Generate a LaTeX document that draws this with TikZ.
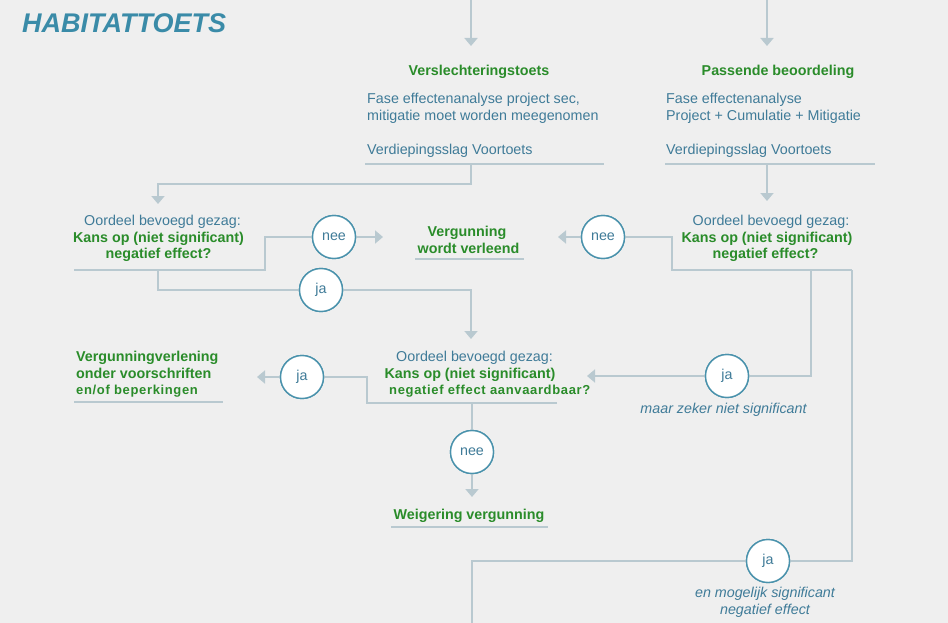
\documentclass[tikz,border=0pt]{standalone}
\usepackage{fontspec}
\setmainfont{Liberation Sans}
\newfontfamily\spacedfont[LetterSpace=5]{Liberation Sans}
\usetikzlibrary{arrows.meta}
\definecolor{bg}{HTML}{EFEFEF}
\definecolor{ln}{HTML}{B9C9D0}
\definecolor{grn}{HTML}{2A8C2A}
\definecolor{txt}{HTML}{3F7B98}
\definecolor{ttl}{HTML}{3A8BA8}
\definecolor{circc}{HTML}{4A92AC}
\tikzset{
  conn/.style={draw=ln, line width=1.8pt},
  arr/.style={conn, -{Triangle[width=13pt,length=8pt]}},
  ring/.style={circle, draw=circc, line width=1.4pt, fill=white, minimum size=43pt, inner sep=0pt, text=txt, font=\fontsize{14.3}{17}\selectfont},
  reg/.style={text=txt, font=\fontsize{14.3}{17}\selectfont, inner sep=0pt, anchor=base},
  regl/.style={reg, anchor=base west},
  bld/.style={text=grn, font=\fontsize{14.3}{17}\selectfont\bfseries, inner sep=0pt, anchor=base},
  bldl/.style={bld, anchor=base west},
  sml/.style={text=grn, font=\spacedfont\fontsize{13}{16}\selectfont\bfseries, inner sep=0pt, anchor=base west},
  ital/.style={text=txt, font=\fontsize{14.3}{17}\selectfont\itshape, inner sep=0pt, anchor=base},
}
\begin{document}
\begin{tikzpicture}[x=1pt,y=-1pt]
\fill[bg] (0,0) rectangle (948,623);
\useasboundingbox (0,0) rectangle (948,623);

% title
\node[text=ttl, font=\fontsize{27}{31}\selectfont\bfseries\itshape, inner sep=0pt, anchor=base west] (title) at (22,33) {HABITATTOETS};

% coordinates
\coordinate (inA) at (471,0);
\coordinate (tipA) at (471,46);
\coordinate (inB) at (767,0);
\coordinate (tipB) at (767,46);
\coordinate (ulA1) at (365,164);
\coordinate (ulA2) at (604,164);
\coordinate (ulAm) at (471,164);
\coordinate (ulB1) at (665,164);
\coordinate (ulB2) at (875,164);
\coordinate (ulBm) at (767,164);
\coordinate (tipL1) at (158,204);
\coordinate (tipR1) at (767,201);
\coordinate (ulL1) at (74,270);
\coordinate (ulL2) at (265,270);
\coordinate (ulLm) at (158,270);
\coordinate (tipNeeL) at (383,237);
\coordinate (tipJaL) at (471,339);
\coordinate (ulV1) at (415,259);
\coordinate (ulV2) at (524,259);
\coordinate (ulR1) at (672,270);
\coordinate (ulR2) at (852,270);
\coordinate (ulRm) at (811,270);
\coordinate (tipNeeR) at (558,237);
\coordinate (tipJaR) at (587,376);
\coordinate (ulC1) at (367,403);
\coordinate (ulC2) at (557,403);
\coordinate (ulCm) at (472,403);
\coordinate (tipJaC) at (257,377);
\coordinate (tipNeeC) at (472,497);
\coordinate (ulW1) at (74,402);
\coordinate (ulW2) at (223,402);
\coordinate (ulG1) at (391,527);
\coordinate (ulG2) at (548,527);
\coordinate (outD) at (472,623);

% circles (positions)
\node[ring] (neeL) at (334,237) {nee};
\node[ring] (jaL) at (321,290) {ja};
\node[ring] (neeR) at (603,237) {nee};
\node[ring] (jaR) at (727,376) {ja};
\node[ring] (jaC) at (302,377) {ja};
\node[ring] (neeC) at (472,452) {nee};
\node[ring] (jaB) at (768,561) {ja};

% connectors
\draw[arr] (inA) -- (tipA);
\draw[arr] (inB) -- (tipB);
\draw[conn] (ulA1) -- (ulA2);
\draw[conn] (ulB1) -- (ulB2);
\draw[arr] (ulAm) -- ++(0,20) -| (tipL1);
\draw[arr] (ulBm) -- (tipR1);
\draw[conn] (ulL1) -- (ulL2) |- (neeL);
\draw[arr] (neeL) -- (tipNeeL);
\draw[conn] (ulLm) |- (jaL);
\draw[arr] (jaL) -| (tipJaL);
\draw[conn] (ulV1) -- (ulV2);
\draw[conn] (ulR2) -- (ulR1) |- (neeR);
\draw[arr] (neeR) -- (tipNeeR);
\draw[conn] (ulRm) |- (jaR);
\draw[arr] (jaR) -- (tipJaR);
\draw[conn] (ulR2) |- (jaB);
\draw[conn] (jaB) -| (outD);
\draw[conn] (ulC2) -- (ulC1) |- (jaC);
\draw[arr] (jaC) -- (tipJaC);
\draw[conn] (ulCm) -- (neeC);
\draw[arr] (neeC) -- (tipNeeC);
\draw[conn] (ulW1) -- (ulW2);
\draw[conn] (ulG1) -- (ulG2);

% redraw circles on top
\node[ring] at (neeL) {nee};
\node[ring] at (jaL) {ja};
\node[ring] at (neeR) {nee};
\node[ring] at (jaR) {ja};
\node[ring] at (jaC) {ja};
\node[ring] at (neeC) {nee};
\node[ring] at (jaB) {ja};

% top-left block
\node[bld] (vt) at (479,76) {Verslechteringstoets};
\node[regl] (vt1) at (367,104) {Fase effectenanalyse project sec,};
\node[regl] (vt2) at (367,121) {mitigatie moet worden meegenomen};
\node[regl] (vt3) at (367,155) {Verdiepingsslag Voortoets};

% top-right block
\node[bld] (pb) at (778,76) {Passende beoordeling};
\node[regl] (pb1) at (666,104) {Fase effectenanalyse};
\node[regl] (pb2) at (666,121) {Project + Cumulatie + Mitigatie};
\node[regl] (pb3) at (666,155) {Verdiepingsslag Voortoets};

% left decision
\node[reg] (dl1) at (162.5,225) {Oordeel bevoegd gezag:};
\node[bld] (dl2) at (158.5,242) {Kans op (niet significant)};
\node[bld] (dl3) at (158.5,258) {negatief effect?};

% vergunning wordt verleend
\node[bld] (vw1) at (467,236) {Vergunning};
\node[bld] (vw2) at (468.5,253) {wordt verleend};

% right decision
\node[reg] (dr1) at (771,225) {Oordeel bevoegd gezag:};
\node[bld] (dr2) at (767,242) {Kans op (niet significant)};
\node[bld] (dr3) at (765.5,258) {negatief effect?};

% vergunningverlening
\node[bldl] (vv1) at (76,361) {Vergunningverlening};
\node[bldl] (vv2) at (76,378) {onder voorschriften};
\node[sml] (vv3) at (76,394) {en/of beperkingen};

% center decision
\node[reg] (dc1) at (474.5,361) {Oordeel bevoegd gezag:};
\node[bld] (dc2) at (470,378) {Kans op (niet significant)};
\node[sml] (dc3) at (389,394) {negatief effect aanvaardbaar?};

% labels
\node[ital] (l1) at (723.5,413) {maar zeker niet significant};
\node[ital] (l2) at (765,597) {en mogelijk significant};
\node[ital] (l3) at (765,614) {negatief effect};

% weigering
\node[bld] (wv) at (469,519) {Weigering vergunning};
\end{tikzpicture}
\end{document}
